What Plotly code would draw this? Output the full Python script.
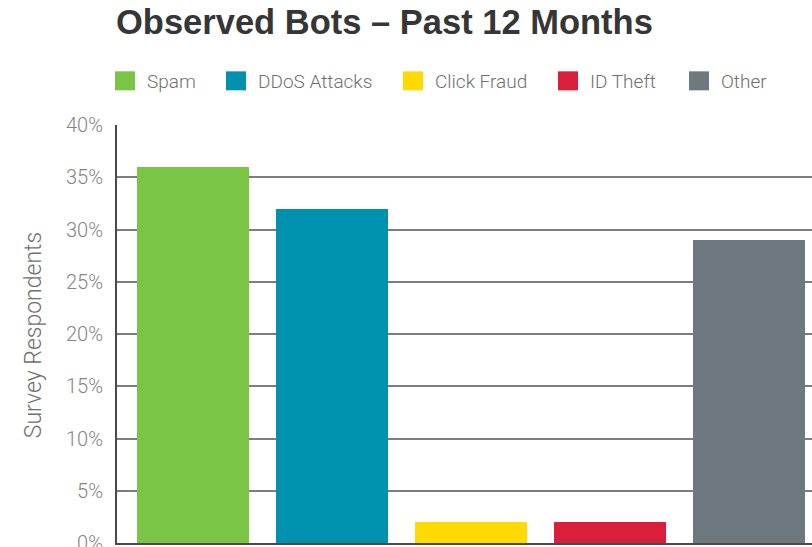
import plotly.graph_objects as go

# Survey data: share of respondents reporting each bot type
categories = ["Spam", "DDoS Attacks", "Click Fraud", "ID Theft", "Other"]
values = [36, 32, 2, 2, 29]
colors = ["#7AC546", "#0091AF", "#FFDA00", "#D91F3B", "#6E787F"]
y_ticks = [0, 5, 10, 15, 20, 25, 30, 35, 40]
y_tick_labels = [f"{t}%" for t in y_ticks]

W, H = 812, 547
M_L, M_R, M_T, M_B = 117, 0, 124.7, 4
PW, PH = W - M_L - M_R, H - M_T - M_B


def px_x(x):
    return (x - M_L) / PW


def px_y(y):
    return (H - M_B - y) / PH


LIGHT = "Roboto"

fig = go.Figure()
fig.add_trace(go.Bar(
    x=list(range(len(categories))),
    y=values,
    marker=dict(color=colors, line=dict(width=0)),
    width=0.806,
    showlegend=False,
    hovertext=categories,
))

# Hand-built legend row: colour swatch followed by label
legend_left = [115, 226, 403, 558, 689]
shapes = []
annotations = []
for name, col, lx in zip(categories, colors, legend_left):
    shapes.append(dict(
        type="rect", xref="paper", yref="paper",
        x0=px_x(lx), x1=px_x(lx + 20), y0=px_y(90), y1=px_y(71),
        fillcolor=col, line=dict(width=0), layer="above",
    ))
    annotations.append(dict(
        x=px_x(lx + 30), y=px_y(81), xref="paper", yref="paper",
        xanchor="left", yanchor="middle", showarrow=False,
        text=name, font=dict(family=LIGHT, size=19, color="#707070", weight=300),
    ))

annotations.append(dict(
    x=px_x(114), y=px_y(22), xref="paper", yref="paper",
    xanchor="left", yanchor="middle", showarrow=False,
    text="Observed Bots – Past 12 Months",
    font=dict(family="Liberation Sans", size=34.5, color="#363636", weight="bold"),
))
annotations.append(dict(
    x=px_x(33), y=px_y(335), xref="paper", yref="paper",
    xanchor="center", yanchor="middle", showarrow=False, textangle=-90,
    text="Survey Respondents",
    font=dict(family=LIGHT, size=23, color="#707070", weight=300),
))

fig.update_layout(
    width=W, height=H,
    margin=dict(l=M_L, r=M_R, t=M_T, b=M_B, pad=0, autoexpand=False),
    paper_bgcolor="white", plot_bgcolor="white",
    shapes=shapes, annotations=annotations,
    bargap=0,
    xaxis=dict(
        range=[-0.55, 4.45], showticklabels=False, showgrid=False,
        zeroline=False, ticks="", showline=True, linecolor="#4a4a4a",
        linewidth=2, fixedrange=True, automargin=False,
    ),
    yaxis=dict(
        range=[0, 40], tickvals=y_ticks, ticktext=y_tick_labels,
        showgrid=True, gridcolor="#7d7d7d", gridwidth=1.5,
        zeroline=False, showline=True, linecolor="#4a4a4a", linewidth=2,
        ticks="", ticklabelstandoff=8, ticklabeloverflow="allow",
        tickfont=dict(family=LIGHT, size=20, color="#858585", weight=300),
        fixedrange=True, automargin=False,
    ),
)

fig.write_html("out.html")
